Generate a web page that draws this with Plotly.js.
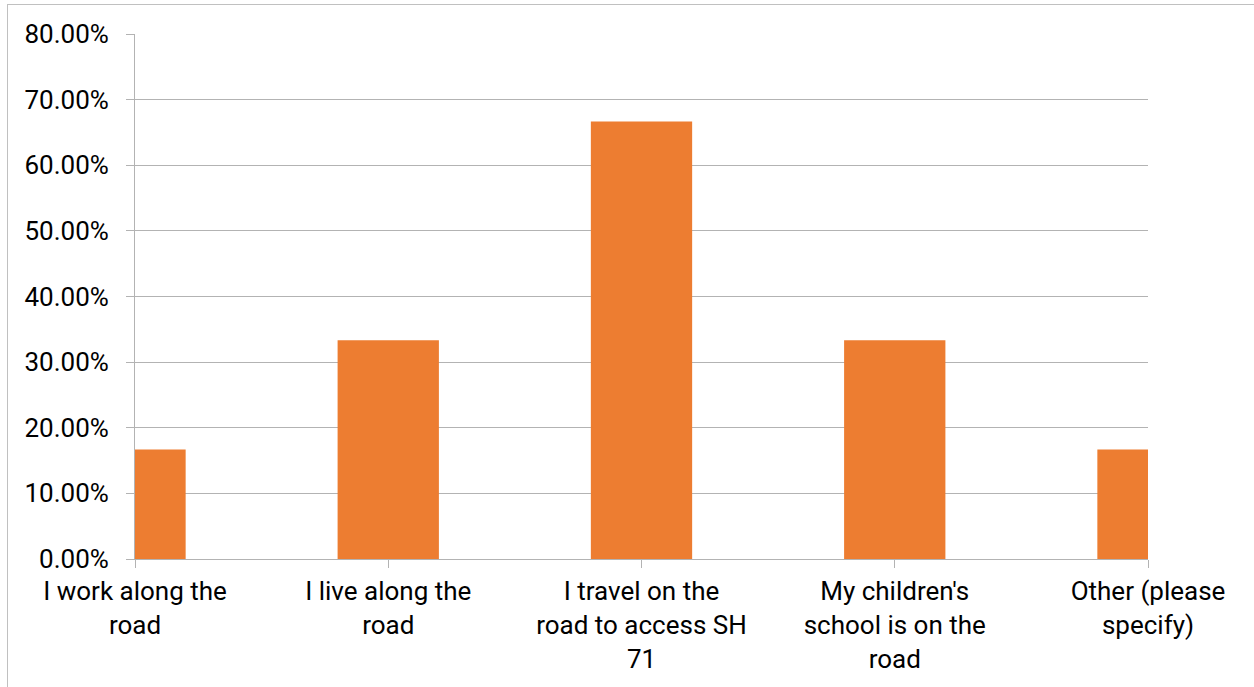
<!DOCTYPE html>
<html>
<head>
<meta charset="utf-8">
<script src="https://cdn.plot.ly/plotly-3.0.1.min.js"></script>
<style>
html,body{margin:0;padding:0;background:#fff;overflow:hidden;width:1254px;height:687px;}
#frame{position:absolute;left:7px;top:4px;width:1260px;height:700px;border:1px solid #c0c0c0;box-sizing:border-box;}
#chart{position:absolute;left:0;top:0;width:1254px;height:687px;}
</style>
</head>
<body>
<div id="frame"></div>
<div id="chart"></div>
<script>
var categories = ["I work along the road", "I live along the road", "I travel on the road to access SH 71", "My children's school is on the road", "Other (please specify)"];
var tickLabels = ["I work along the<br>road", "I live along the<br>road", "I travel on the<br>road to access SH<br>71", "My children's<br>school is on the<br>road", "Other (please<br>specify)"];
var shares = [0.1667, 0.3333, 0.6667, 0.3333, 0.1667];
var yTicks = [0, 0.1, 0.2, 0.3, 0.4, 0.5, 0.6, 0.7, 0.8];

var trace = {
  type: 'bar',
  x: categories,
  y: shares,
  width: 0.4,
  marker: {color: '#ED7D31'},
  hoverinfo: 'x+y'
};

var layout = {
  width: 1254, height: 687,
  paper_bgcolor: 'rgba(0,0,0,0)',
  plot_bgcolor: 'rgba(0,0,0,0)',
  margin: {l: 135, r: 106, t: 34, b: 128},
  font: {family: 'Roboto, "Open Sans", sans-serif', size: 26, color: '#000'},
  showlegend: false,
  xaxis: {
    type: 'category',
    range: [0, 4],
    tickvals: categories,
    ticktext: tickLabels,
    showline: true, linecolor: '#b3b3b3', linewidth: 1,
    ticks: 'outside', ticklen: 8, tickcolor: '#b3b3b3', tickwidth: 1,
    ticklabelstandoff: 1,
    showgrid: false, zeroline: false,
    tickangle: 0,
    tickfont: {size: 26, color: '#000'},
    fixedrange: true
  },
  yaxis: {
    range: [0, 0.8],
    tickvals: yTicks,
    tickformat: '.2%',
    showline: true, linecolor: '#b3b3b3', linewidth: 1,
    ticks: 'outside', ticklen: 8, tickcolor: '#b3b3b3', tickwidth: 1,
    ticklabelstandoff: 12,
    showgrid: true, gridcolor: '#b3b3b3', gridwidth: 1,
    zeroline: false,
    tickfont: {size: 26, color: '#000'},
    fixedrange: true
  }
};

Plotly.newPlot('chart', [trace], layout, {displayModeBar: false, staticPlot: true});
</script>
</body>
</html>
